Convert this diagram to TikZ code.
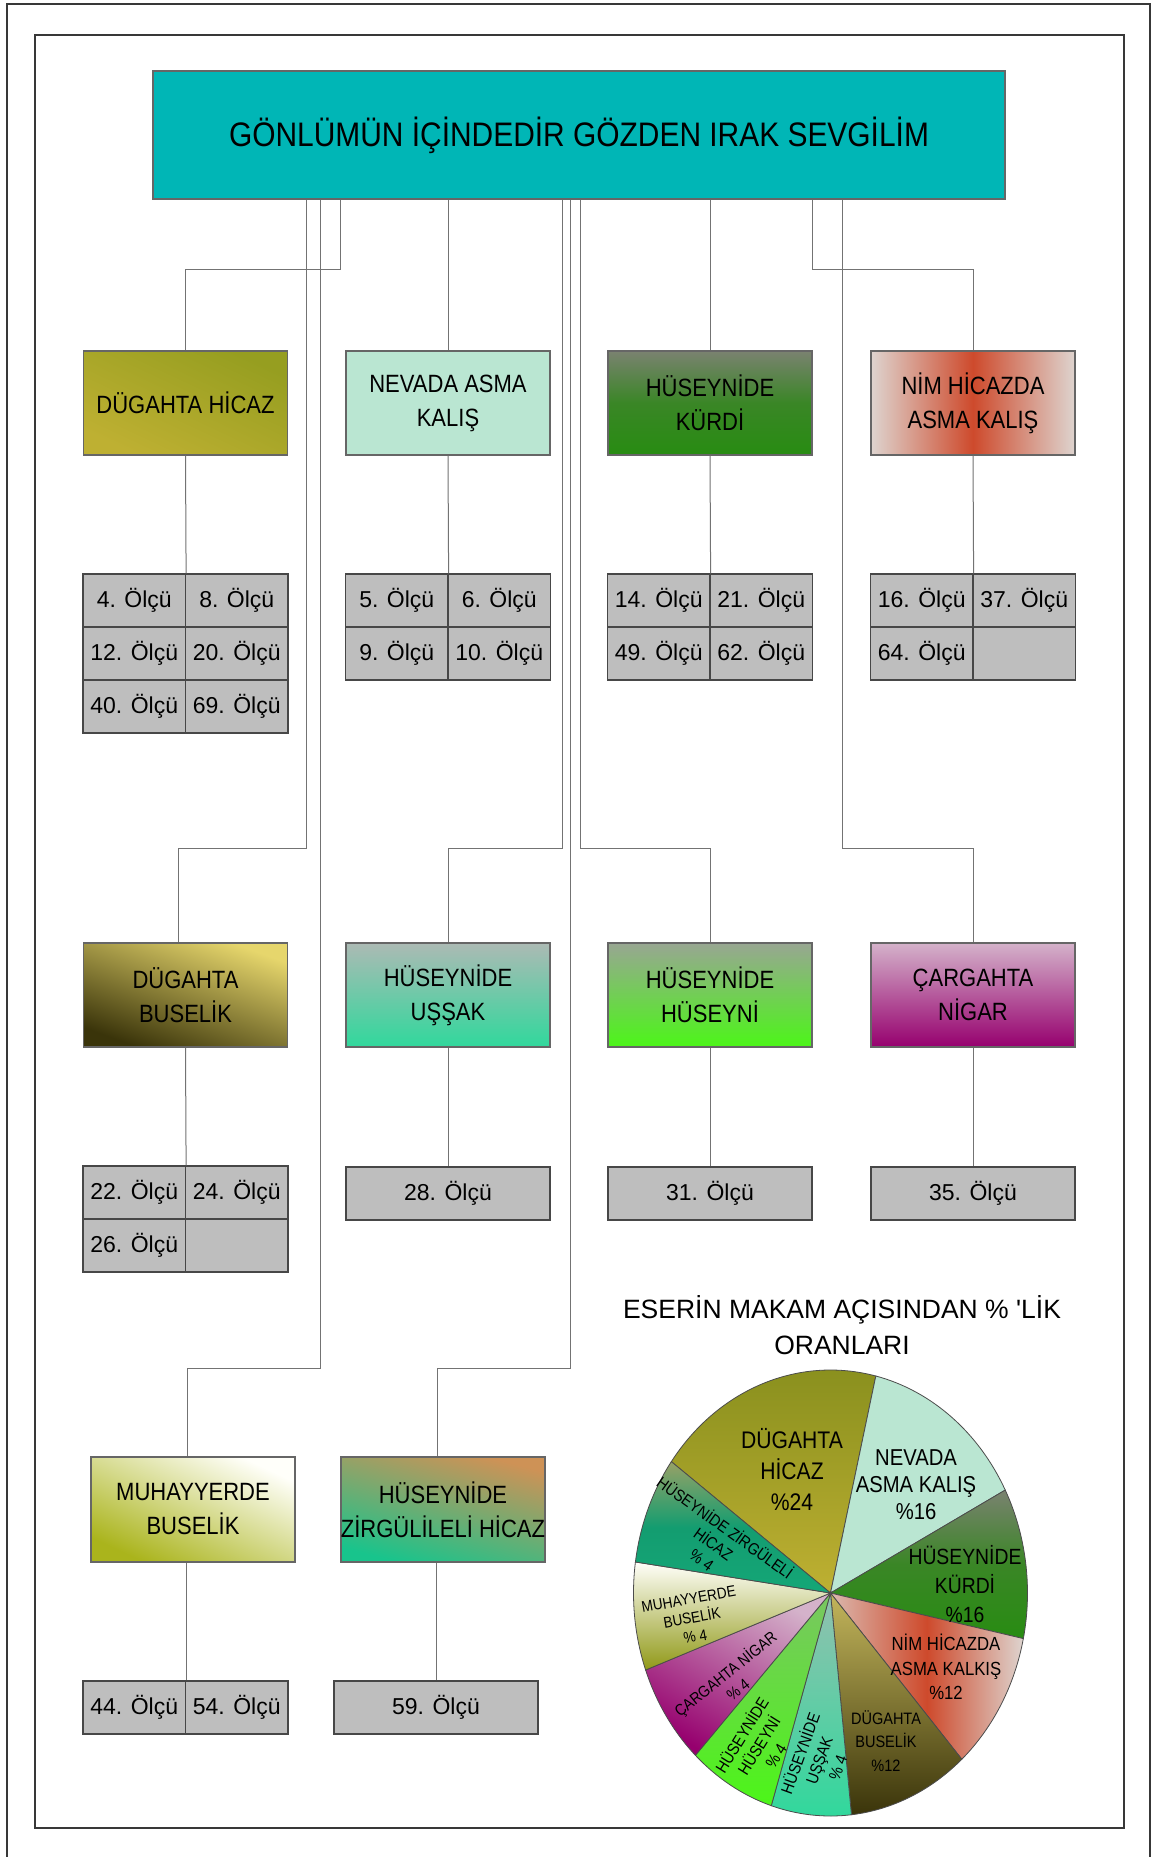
\documentclass[tikz,border=0pt]{standalone}
\usepackage{fontspec}
\setmainfont{Liberation Sans}[FakeStretch=0.88,Ligatures=TeXOff]
\newfontfamily\plainfont{Liberation Sans}[Ligatures=TeXOff]
\usetikzlibrary{calc}
\definecolor{teal1}{RGB}{0,182,182}
\definecolor{cellgray}{RGB}{190,190,190}
\definecolor{hicA}{RGB}{150,158,32}
\definecolor{hicB}{RGB}{190,176,50}
\definecolor{nevada}{RGB}{186,230,210}
\definecolor{kurA}{RGB}{122,130,112}
\definecolor{kurM}{RGB}{58,134,38}
\definecolor{kurB}{RGB}{40,140,18}
\definecolor{nimE}{RGB}{222,212,207}
\definecolor{nimR}{RGB}{206,74,44}
\definecolor{busA}{RGB}{230,214,108}
\definecolor{busB}{RGB}{58,52,10}
\definecolor{ussA}{RGB}{172,186,180}
\definecolor{ussB}{RGB}{48,216,156}
\definecolor{husA}{RGB}{152,166,146}
\definecolor{husB}{RGB}{76,246,24}
\definecolor{carA}{RGB}{212,178,202}
\definecolor{carB}{RGB}{150,0,110}
\definecolor{muhA}{RGB}{255,255,250}
\definecolor{muhB}{RGB}{170,180,28}
\definecolor{zirA}{RGB}{206,146,86}
\definecolor{zirB}{RGB}{24,196,140}
\newcommand\pslice[3]{\path[slice,#3] (pc) -- ++(#1:197 and 223) arc[start angle=#1, end angle=#2, x radius=197, y radius=223] -- cycle;}
\begin{document}
\begin{tikzpicture}[x=1pt,y=-1pt,
  conn/.style={draw=black!55, line width=1pt},
  frame/.style={draw=black!78, line width=1.6pt},
  titlebox/.style={draw=black!60, line width=1.2pt, fill=teal1, minimum width=852, minimum height=128, inner sep=0, font=\fontsize{34}{40}\selectfont},
  mbox/.style={draw=black!60, line width=1.2pt, minimum width=204, minimum height=104, inner sep=0, align=center, font=\fontsize{25}{34}\selectfont},
  cellw/.style={draw=black!72, line width=1.2pt, fill=cellgray, minimum width=102.5, minimum height=53, inner sep=0, font=\plainfont\fontsize{23}{28}\selectfont},
  cellwide/.style={cellw, minimum width=204},
  plbl/.style={align=center, inner sep=0},
  slice/.style={draw=black!70, line width=0.8pt}]
\useasboundingbox (0,0) rectangle (1152,1857);
\fill[white] (0,0) rectangle (1152,1857);
% frames
\draw[frame] (7,1857) -- (7,4) -- (1150,4) -- (1150,1857);
\draw[frame] (35,35) rectangle (1124,1828);
% title
\node[titlebox] (title) at (579,135) {GÖNLÜMÜN İÇİNDEDİR GÖZDEN IRAK SEVGİLİM};
% row 1 boxes
\node[mbox, top color=hicA, bottom color=hicB, shading angle=-25] (b1) at (185.5,403) {DÜGAHTA HİCAZ};
\node[mbox, fill=nevada] (b2) at (448,403) {NEVADA ASMA\\KALIŞ};
\node[mbox, top color=kurA, bottom color=kurB, middle color=kurM] (b3) at (710,403) {HÜSEYNİDE\\KÜRDİ};
\node[mbox, left color=nimE, right color=nimE, middle color=nimR] (b4) at (973,403) {NİM HİCAZDA\\ASMA KALIŞ};
% row 2 boxes
\node[mbox, top color=busA, bottom color=busB, shading angle=-20] (b5) at (185.5,995) {DÜGAHTA\\BUSELİK};
\node[mbox, top color=ussA, bottom color=ussB] (b6) at (448,995) {HÜSEYNİDE\\UŞŞAK};
\node[mbox, top color=husA, bottom color=husB] (b7) at (710,995) {HÜSEYNİDE\\HÜSEYNİ};
\node[mbox, top color=carA, bottom color=carB] (b8) at (973,995) {ÇARGAHTA\\NİGAR};
% row 3 boxes
\node[mbox, minimum height=105, top color=muhA, bottom color=muhB, shading angle=-25] (b9) at (193,1509.5) {MUHAYYERDE\\BUSELİK};
\node[mbox, minimum height=105, top color=zirA, bottom color=zirB, shading angle=-15] (b10) at (443,1509.5) {HÜSEYNİDE\\ZİRGÜLİLELİ HİCAZ};
% tables row 1
\node[cellw] (c1a) at (134.25,600.5) {4. Ölçü};
\node[cellw] (c1b) at (236.75,600.5) {8. Ölçü};
\node[cellw] (c1c) at (134.25,653.5) {12. Ölçü};
\node[cellw] (c1d) at (236.75,653.5) {20. Ölçü};
\node[cellw] (c1e) at (134.25,706.5) {40. Ölçü};
\node[cellw] (c1f) at (236.75,706.5) {69. Ölçü};
\node[cellw] (c2a) at (396.75,600.5) {5. Ölçü};
\node[cellw] (c2b) at (499.25,600.5) {6. Ölçü};
\node[cellw] (c2c) at (396.75,653.5) {9. Ölçü};
\node[cellw] (c2d) at (499.25,653.5) {10. Ölçü};
\node[cellw] (c3a) at (658.75,600.5) {14. Ölçü};
\node[cellw] (c3b) at (761.25,600.5) {21. Ölçü};
\node[cellw] (c3c) at (658.75,653.5) {49. Ölçü};
\node[cellw] (c3d) at (761.25,653.5) {62. Ölçü};
\node[cellw] (c4a) at (921.75,600.5) {16. Ölçü};
\node[cellw] (c4b) at (1024.25,600.5) {37. Ölçü};
\node[cellw] (c4c) at (921.75,653.5) {64. Ölçü};
\node[cellw] (c4d) at (1024.25,653.5) {};
% tables row 2
\node[cellw] (c5a) at (134.25,1192.5) {22. Ölçü};
\node[cellw] (c5b) at (236.75,1192.5) {24. Ölçü};
\node[cellw] (c5c) at (134.25,1245.5) {26. Ölçü};
\node[cellw] (c5d) at (236.75,1245.5) {};
\node[cellwide] (c6) at (448,1193.5) {28. Ölçü};
\node[cellwide] (c7) at (710,1193.5) {31. Ölçü};
\node[cellwide] (c8) at (973,1193.5) {35. Ölçü};
% tables row 3
\node[cellw] (c9a) at (134.25,1707.5) {44. Ölçü};
\node[cellw] (c9b) at (236.75,1707.5) {54. Ölçü};
\node[cellwide] (c10) at (436,1707.5) {59. Ölçü};
% connector helper coordinates
\coordinate (h1) at (0,269);
\coordinate (h2) at (0,848);
\coordinate (h3) at (0,1368);
\coordinate (s1) at (306,0);
\coordinate (s2) at (320.5,0);
\coordinate (s3) at (340,0);
\coordinate (s5) at (562,0);
\coordinate (s6) at (570,0);
\coordinate (s7) at (580,0);
\coordinate (s9) at (812,0);
\coordinate (s10) at (842,0);
\coordinate (e5) at (178,0);
\coordinate (e9) at (187.5,0);
\coordinate (e10) at (437.4,0);
% connectors from title
\draw[conn] (title.south -| s3) -- (s3 |- h1) -| (b1.north);
\draw[conn] (title.south -| b2.north) -- (b2.north);
\draw[conn] (title.south -| b3.north) -- (b3.north);
\draw[conn] (title.south -| s9) -- (s9 |- h1) -| (b4.north);
\draw[conn] (title.south -| s1) -- (s1 |- h2) -| (b5.north -| e5);
\draw[conn] (title.south -| s5) -- (s5 |- h2) -| (b6.north);
\draw[conn] (title.south -| s7) -- (s7 |- h2) -| (b7.north);
\draw[conn] (title.south -| s10) -- (s10 |- h2) -| (b8.north);
\draw[conn] (title.south -| s2) -- (s2 |- h3) -| (b9.north -| e9);
\draw[conn] (title.south -| s6) -- (s6 |- h3) -| (b10.north -| e10);
% connectors box to table
\draw[conn] (b1.south) -- (c1a.north east);
\draw[conn] (b2.south) -- (c2a.north east);
\draw[conn] (b3.south) -- (c3a.north east);
\draw[conn] (b4.south) -- (c4a.north east);
\draw[conn] (b5.south) -- (c5a.north east);
\draw[conn] (b6.south) -- (c6.north);
\draw[conn] (b7.south) -- (c7.north);
\draw[conn] (b8.south) -- (c8.north);
\draw[conn] (b9.south -| c9a.north east) -- (c9a.north east);
\draw[conn] (b10.south -| c10.north) -- (c10.north);
% pie chart
\node[plbl, font=\plainfont\fontsize{26.5}{36}\selectfont] (ptitle) at (842,1325) {ESERİN MAKAM AÇISINDAN \% 'LİK\\ORANLARI};
\coordinate (pc) at (830.5,1593);
\pslice{-143.9}{-76.7}{top color=hicA!90!black, bottom color=hicB}
\pslice{-76.7}{-27.5}{fill=nevada}
\pslice{-27.5}{11.8}{top color=kurA, bottom color=kurB, middle color=kurM}
\pslice{11.8}{48.2}{left color=nimE!80!nimR, right color=nimE, middle color=nimR}
\pslice{48.2}{83.9}{top color=busA!85!black, bottom color=busB}
\pslice{83.9}{107.5}{top color=ussA!80!ussB, bottom color=ussB}
\pslice{107.5}{133.3}{top color=husA!60!husB, bottom color=husB}
\pslice{133.3}{159.8}{top color=carA, bottom color=carB, shading angle=-30}
\pslice{159.8}{188}{top color=muhA, bottom color=muhB!85!black}
\pslice{188}{216.1}{top color=zirA!70!zirB, bottom color=zirB!85!black, middle color=zirB!80!black}
\node[plbl, font=\fontsize{24}{31}\selectfont] (l1) at (792,1470) {DÜGAHTA\\HİCAZ\\\%24};
\node[plbl, font=\fontsize{23}{27}\selectfont] (l2) at (916,1485) {NEVADA\\ASMA KALIŞ\\\%16};
\node[plbl, font=\fontsize{22}{29}\selectfont] (l3) at (965,1584) {HÜSEYNİDE\\KÜRDİ\\\%16};
\node[plbl, font=\fontsize{19}{24.5}\selectfont] (l4) at (946,1667) {NİM HİCAZDA\\ASMA KALKIŞ\\\%12};
\node[plbl, font=\fontsize{16.5}{23.5}\selectfont] (l5) at (886,1741) {DÜGAHTA\\BUSELİK\\\%12};
\node[plbl, rotate=70, font=\fontsize{16.5}{20}\selectfont] (l6) at (818,1760) {HÜSEYNİDE\\UŞŞAK\\\% 4};
\node[plbl, rotate=58, font=\fontsize{16.5}{20}\selectfont] (l7) at (758,1745) {HÜSEYNİDE\\HÜSEYNİ\\\% 4};
\node[plbl, rotate=38.7, font=\fontsize{16}{20}\selectfont] (l8) at (731,1681) {ÇARGAHTA NİGAR\\\% 4};
\node[plbl, rotate=10, font=\fontsize{15.5}{19}\selectfont] (l9) at (692,1618) {MUHAYYERDE\\BUSELİK\\\% 4};
\node[plbl, rotate=-35.7, font=\fontsize{16.4}{20}\selectfont] (l10) at (714,1543) {HÜSEYNİDE ZİRGÜLELİ\\HİCAZ\\\% 4};
\end{tikzpicture}
\end{document}
